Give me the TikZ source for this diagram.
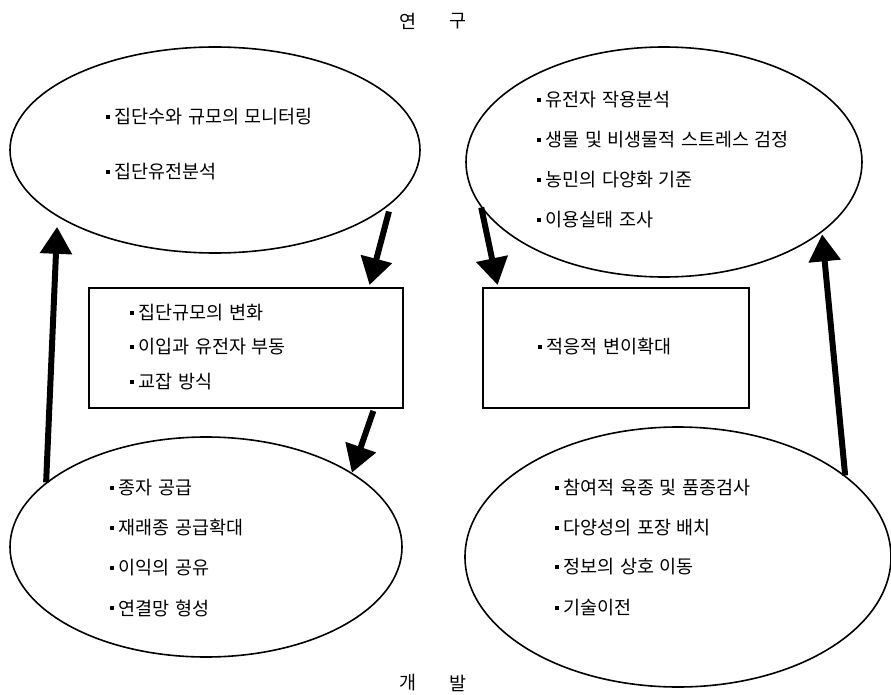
\documentclass[tikz,border=0pt]{standalone}
\usepackage{fontspec}
\newfontfamily\kr[WordSpace=1.3]{Noto Sans CJK KR}
\usetikzlibrary{shapes.geometric,arrows.meta,calc}
\newcommand{\bul}{\raisebox{5.2pt}{\rule{3.6pt}{3.6pt}}\hspace{5pt}}
\begin{document}
\begin{tikzpicture}[x=1pt,y=-1pt,
  oval/.style={draw, ellipse, line width=1.6pt, inner sep=0pt},
  boxnode/.style={draw, rectangle, line width=2pt, inner sep=0pt},
  item/.style={anchor=west, inner sep=0pt, font=\kr\fontsize{18.5}{20}\selectfont},
  bigarrow/.style={line width=6pt, -{Triangle[length=27pt,width=31pt]}},
  headtext/.style={inner sep=0pt, font=\kr\fontsize{18.5}{20}\selectfont}]
\useasboundingbox (0,0) rectangle (891,695);
\fill[white] (0,0) rectangle (891,695);

% titles
\node[headtext] (y1) at (408,21) {연};
\node[headtext] (y2) at (458,21) {구};
\node[headtext] (g1) at (408,683) {개};
\node[headtext] (g2) at (458,683) {발};

% shapes
\node[oval, minimum width=410pt, minimum height=206pt] (tl) at (215,150) {};
\node[oval, minimum width=396pt, minimum height=230pt] (tr) at (664,162) {};
\node[oval, minimum width=392pt, minimum height=220pt] (bl) at (206,547) {};
\node[oval, minimum width=426pt, minimum height=260pt] (br) at (678,557) {};
\node[boxnode, minimum width=314pt, minimum height=120pt] (lbox) at (246,348) {};
\node[boxnode, minimum width=266pt, minimum height=120pt] (rbox) at (616,348) {};

% texts top-left
\node[item] (a1) at (106,117) {\bul 집단수와 규모의 모니터링};
\node[item] (a2) at (106,172) {\bul 집단유전분석};
% texts top-right
\node[item] (b1) at (537,100) {\bul 유전자 작용분석};
\node[item] (b2) at (537,140) {\bul 생물 및 비생물적 스트레스 검정};
\node[item] (b3) at (537,180) {\bul 농민의 다양화 기준};
\node[item] (b4) at (537,220) {\bul 이용실태 조사};
% left box
\node[item] (c1) at (130,313) {\bul 집단규모의 변화};
\node[item] (c2) at (130,347) {\bul 이입과 유전자 부동};
\node[item] (c3) at (130,382) {\bul 교잡 방식};
% right box
\node[item] (d1) at (538,347) {\bul 적응적 변이확대};
% bottom-left
\node[item] (e1) at (110,488) {\bul 종자 공급};
\node[item] (e2) at (110,528) {\bul 재래종 공급확대};
\node[item] (e3) at (110,568) {\bul 이익의 공유};
\node[item] (e4) at (110,608) {\bul 연결망 형성};
% bottom-right
\node[item] (f1) at (555,488) {\bul 참여적 육종 및 품종검사};
\node[item] (f2) at (555,528) {\bul 다양성의 포장 배치};
\node[item] (f3) at (555,567) {\bul 정보의 상호 이동};
\node[item] (f4) at (555,608) {\bul 기술이전};

% arrows
\draw[bigarrow, shorten >=10pt] (bl.158.6) -- (tl.203);
\draw[bigarrow, shorten <=8pt, shorten >=2pt] (tl.343) -- ($(lbox.north east)+(-35,0)$);
\draw[bigarrow, shorten <=2pt] ($(lbox.south east)+(-30,0)$) -- (bl.27);
\draw[bigarrow, shorten >=2pt] (tr.194) -- ($(rbox.north west)+(16,0)$);
\draw[bigarrow, shorten >=2pt] (br.26) -- (tr.336.5);
\end{tikzpicture}
\end{document}
